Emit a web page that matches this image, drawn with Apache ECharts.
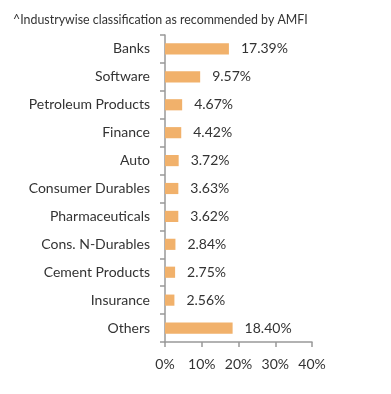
<!DOCTYPE html>
<html><head><meta charset="utf-8">
<script src="https://cdn.jsdelivr.net/npm/echarts@6/dist/echarts.min.js"></script>
<style>html,body{margin:0;padding:0;background:#fff}#c{width:391px;height:394px}</style>
</head><body><div id="c"></div>
<script>
const categories = ["Banks","Software","Petroleum Products","Finance","Auto","Consumer Durables","Pharmaceuticals","Cons. N-Durables","Cement Products","Insurance","Others"];
const values = [17.39, 9.57, 4.67, 4.42, 3.72, 3.63, 3.62, 2.84, 2.75, 2.56, 18.40];
const xTicks = [0, 10, 20, 30, 40];
const titleText = "^Industrywise classification as recommended by AMFI";

const chart = echarts.init(document.getElementById('c'), null, {renderer:'canvas'});
chart.setOption({
  animation:false,
  title:{text:titleText,left:8,top:9,textStyle:{fontFamily:'Lato',fontSize:12.4,fontWeight:'normal',color:'#333'}},
  grid:{left:165,right:79,top:35,bottom:52,containLabel:false},
  xAxis:{type:'value',min:xTicks[0],max:xTicks[xTicks.length-1],interval:10,
    axisLine:{show:true,lineStyle:{color:'#999',width:1.5}},
    axisTick:{show:true,length:5,lineStyle:{color:'#999',width:1.5}},
    splitLine:{show:false},
    axisLabel:{margin:15,formatter:v=>v+'%',fontFamily:'Lato',fontSize:14,color:'#333'}},
  yAxis:{type:'category',data:categories,inverse:true,
    axisLine:{show:true,lineStyle:{color:'#999',width:1.5}},
    axisTick:{show:true,length:5,lineStyle:{color:'#999',width:1.5}},
    axisLabel:{margin:15,fontFamily:'Lato',fontSize:14,color:'#333'}},
  series:[{type:'bar',data:values,barWidth:'40%',itemStyle:{color:'#F1B16B'},
    label:{show:true,position:'right',distance:12,formatter:p=>p.value.toFixed(2)+'%',fontFamily:'Lato',fontSize:14,color:'#333'}}]
});
</script></body></html>
